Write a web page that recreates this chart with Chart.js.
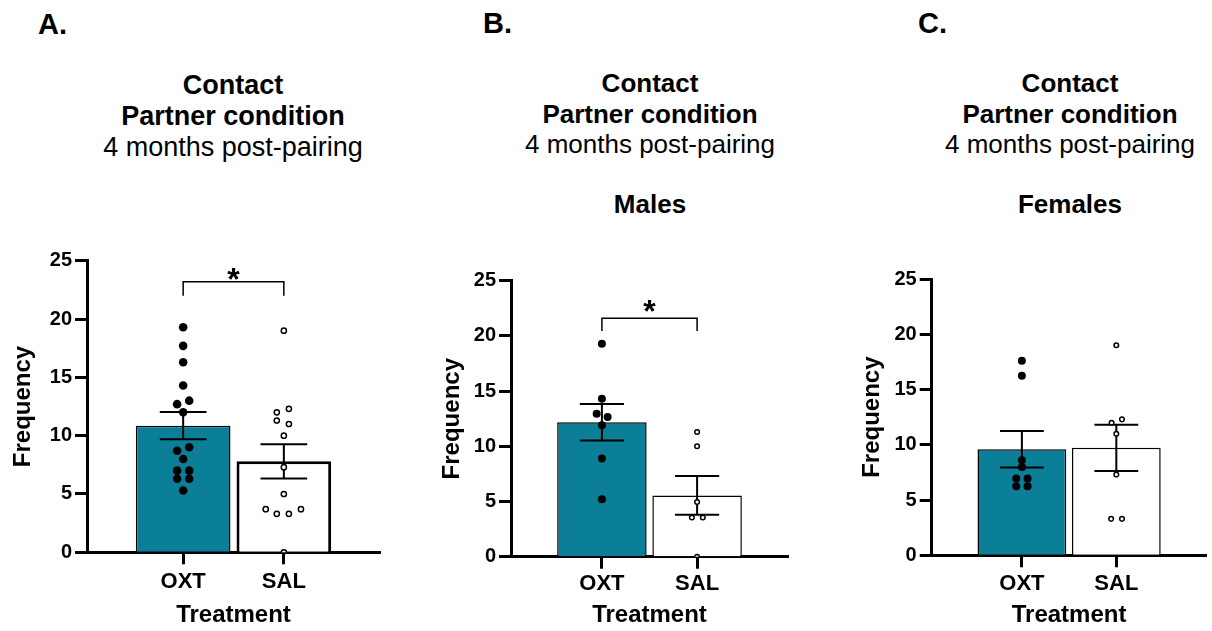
<!DOCTYPE html>
<html>
<head>
<meta charset="utf-8">
<script src="https://cdn.jsdelivr.net/npm/chart.js@4"></script>
<style>
    body { margin: 0; width: 1212px; height: 631px; background: #fff; position: relative; overflow: hidden;
           font-family: "Liberation Sans", Arial, sans-serif; color: #000; }
    .abs { position: absolute; }
    .letter { font-size: 29px; font-weight: bold; line-height: 29px; }
    .title { width: 400px; text-align: center; }
    .title b, .title span { display: block; }
    canvas { position: absolute; }
</style>
</head>
<body>
<div class="abs letter" style="left:38px; top:10px;">A.</div>
<div class="abs letter" style="left:483px; top:9px;">B.</div>
<div class="abs letter" style="left:918px; top:9px;">C.</div>

<div class="abs title" style="left:33px; top:70px; font-size:27px; line-height:31px;">
    <b>Contact</b><b>Partner condition</b><span>4 months post-pairing</span>
</div>
<div class="abs title" style="left:450px; top:68px; font-size:26px; line-height:30.7px;">
    <b>Contact</b><b>Partner condition</b><span>4 months post-pairing</span>
</div>
<div class="abs title" style="left:450px; top:189px; font-size:26px; line-height:30.7px;"><b>Males</b></div>
<div class="abs title" style="left:870px; top:68px; font-size:26px; line-height:30.7px;">
    <b>Contact</b><b>Partner condition</b><span>4 months post-pairing</span>
</div>
<div class="abs title" style="left:870px; top:189px; font-size:26px; line-height:30.7px;"><b>Females</b></div>

<canvas id="chartA" width="400" height="401" style="left:0px; top:230px;"></canvas>
<canvas id="chartB" width="375" height="401" style="left:425px; top:230px;"></canvas>
<canvas id="chartC" width="367" height="401" style="left:845px; top:230px;"></canvas>

<script>
const categories = ["OXT", "SAL"];
const yTicks = [0, 5, 10, 15, 20, 25];

// A: all animals
const meanA = [10.86, 7.8];
const semA = [1.17, 1.47];
const oxtA = [19.3, 17.7, 16.3, 14.3, 13.0, 12.7, 12.0, 9.0, 8.7, 8.0, 7.0, 7.0, 6.3, 6.3, 5.3];
const oxtJitterA = [0, 0, 0, 0, 0.06, -0.06, 0, 0.06, -0.06, 0, -0.06, 0.06, -0.06, 0.06, 0];
const salA = [19.0, 12.3, 12.0, 11.3, 11.0, 10.0, 7.3, 5.0, 3.7, 3.7, 3.3, 3.3, 0];
const salJitterA = [0, 0.05, -0.07, -0.07, 0.05, 0, 0, 0, -0.18, 0.17, -0.07, 0.05, 0];

// B: males
const meanB = [12.18, 5.55];
const semB = [1.65, 1.75];
const oxtB = [19.3, 14.3, 12.95, 12.65, 11.9, 8.9, 5.2];
const oxtJitterB = [0, 0, -0.055, 0.06, 0, 0, 0];
const salB = [11.3, 10.0, 4.95, 3.55, 3.55, 0];
const salJitterB = [0, 0, 0, -0.055, 0.06, 0];

// C: females
const meanC = [9.6, 9.72];
const semC = [1.65, 2.1];
const oxtC = [17.6, 16.25, 8.6, 8.0, 6.95, 6.95, 6.25, 6.25];
const oxtJitterC = [0, 0, 0, 0, -0.06, 0.06, -0.06, 0.06];
const salC = [19.0, 12.3, 12.0, 11.0, 7.3, 3.3, 3.3];
const salJitterC = [0, 0.06, -0.05, 0, 0, -0.055, 0.06];

// significance brackets (y values in data units)
const sigA = { top: 23.2, drop: 1.2, star: 24.07 };
const sigB = { top: 21.6, drop: 1.15, star: 22.9 };

const TEAL = "#0b7f98";
Chart.defaults.font.family = "'Liberation Sans', Arial, sans-serif";
Chart.defaults.color = "#000";

const errorBars = {
    id: "errorBars",
    afterDatasetDraw(chart, args, opts) {
        if (args.meta.type !== "bar") return;
        const { ctx, scales: { x, y } } = chart;
        ctx.save();
        ctx.strokeStyle = "#000";
        ctx.lineWidth = 2;
        opts.means.forEach((m, i) => {
            const cx = x.getPixelForValue(i);
            const hi = y.getPixelForValue(m + opts.sems[i]);
            const lo = y.getPixelForValue(m - opts.sems[i]);
            const l = x.getPixelForValue(i - 0.232);
            const r = x.getPixelForValue(i + 0.232);
            ctx.beginPath();
            ctx.moveTo(cx, hi); ctx.lineTo(cx, lo);
            ctx.moveTo(l, hi); ctx.lineTo(r, hi);
            ctx.moveTo(l, lo); ctx.lineTo(r, lo);
            ctx.stroke();
        });
        ctx.restore();
    },
    afterDraw(chart, args, opts) {
        const sig = opts.sig;
        if (!sig) return;
        const { ctx, scales: { x, y } } = chart;
        const x0 = x.getPixelForValue(0), x1 = x.getPixelForValue(1);
        const yt = y.getPixelForValue(sig.top), yb = y.getPixelForValue(sig.top - sig.drop);
        ctx.save();
        ctx.strokeStyle = "#000";
        ctx.lineWidth = 1.5;
        ctx.beginPath();
        ctx.moveTo(x0, yb); ctx.lineTo(x0, yt); ctx.lineTo(x1, yt); ctx.lineTo(x1, yb);
        ctx.stroke();
        ctx.fillStyle = "#000";
        ctx.font = "bold 32px 'Liberation Sans', Arial";
        ctx.textAlign = "center";
        ctx.textBaseline = "alphabetic";
        ctx.fillText("*", x.getPixelForValue(0.5), y.getPixelForValue(sig.star) + 18);
        ctx.restore();
    }
};

function points(values, jitter, idx) {
    return values.map((v, i) => ({ x: idx + jitter[i], y: v }));
}

function makeChart(id, p) {
    const canvas = document.getElementById(id);
    return new Chart(canvas, {
        type: "bar",
        data: {
            datasets: [
                {
                    type: "bar",
                    order: 3,
                    data: categories.map((c, i) => ({ x: i, y: p.means[i] })),
                    backgroundColor: [TEAL, "#fff"],
                    borderColor: "#000",
                    borderWidth: p.barBorder,
                    borderSkipped: "bottom",
                    barPercentage: 0.94,
                    categoryPercentage: 1,
                },
                {
                    type: "scatter",
                    order: 1,
                    data: points(p.oxt, p.oxtJitter, 0),
                    pointRadius: p.dotR,
                    backgroundColor: "#000",
                    borderColor: "#000",
                    borderWidth: 0,
                },
                {
                    type: "scatter",
                    order: 2,
                    data: points(p.sal, p.salJitter, 1),
                    pointRadius: p.ringR,
                    backgroundColor: "#fff",
                    borderColor: "#000",
                    borderWidth: 1.5,
                },
            ],
        },
        options: {
            responsive: false,
            animation: false,
            layout: { padding: { left: 0, top: p.top, right: p.right, bottom: 0 } },
            plugins: {
                legend: { display: false },
                tooltip: { enabled: false },
                errorBars: { means: p.means, sems: p.sems, sig: p.sig },
            },
            scales: {
                x: {
                    type: "linear",
                    offset: false,
                    min: -0.955,
                    max: 1.955,
                    afterBuildTicks: (s) => { s.ticks = categories.map((c, i) => ({ value: i })); },
                    afterFit: (s) => { s.height = p.xHeight; },
                    ticks: {
                        callback: (v) => categories[v],
                        font: { size: 22, weight: "bold" },
                        padding: p.xPad,
                        maxRotation: 0,
                        autoSkip: false,
                    },
                    grid: { offset: false, drawOnChartArea: false, drawTicks: true, tickLength: 12, tickWidth: 3, tickColor: "#000" },
                    border: { display: true, color: "#000", width: 3 },
                    title: { display: true, text: "Treatment", font: { size: 24, weight: "bold" }, padding: { top: 0, bottom: 1 } },
                },
                y: {
                    min: 0,
                    max: 25,
                    afterBuildTicks: (s) => { s.ticks = yTicks.map((v) => ({ value: v })); },
                    afterFit: (s) => { s.width = p.yWidth; },
                    ticks: { font: { size: 20, weight: "bold" }, padding: 3 },
                    grid: { drawOnChartArea: false, drawTicks: true, tickLength: 12, tickWidth: 3, tickColor: "#000" },
                    border: { display: true, color: "#000", width: 3 },
                    title: { display: true, text: "Frequency", font: { size: 24, weight: "bold" }, padding: { top: p.yTitlePad, bottom: 0 } },
                },
            },
        },
        plugins: [errorBars],
    });
}

makeChart("chartA", {
    means: meanA, sems: semA, oxt: oxtA, oxtJitter: oxtJitterA, sal: salA, salJitter: salJitterA, sig: sigA,
    top: 30.7, right: 20, xHeight: 78.7, yWidth: 87, yTitlePad: 9.4, xPad: 4.5, barBorder: [1.5, 3], dotR: 4.3, ringR: 2.6,
});
makeChart("chartB", {
    means: meanB, sems: semB, oxt: oxtB, oxtJitter: oxtJitterB, sal: salB, salJitter: salJitterB, sig: sigB,
    top: 50.7, right: 12, xHeight: 74.3, yWidth: 86, yTitlePad: 13, xPad: 2.5, barBorder: [1.5, 1.5], dotR: 4, ringR: 2.3,
});
makeChart("chartC", {
    means: meanC, sems: semC, oxt: oxtC, oxtJitter: oxtJitterC, sal: salC, salJitter: salJitterC, sig: null,
    top: 49, right: 3.7, xHeight: 75.7, yWidth: 86.7, yTitlePad: 13, xPad: 3.5, barBorder: [1.5, 1.5], dotR: 4, ringR: 2.3,
});
</script>
</body>
</html>
